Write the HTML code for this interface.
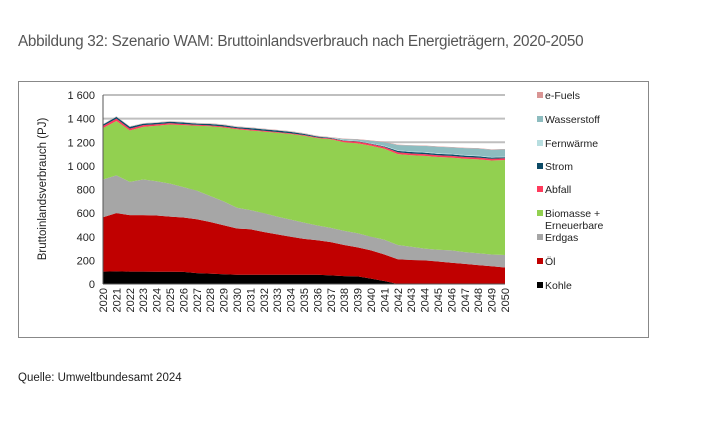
<!DOCTYPE html>
<html><head><meta charset="utf-8"><style>
body{margin:0;background:#fff;width:714px;height:424px;overflow:hidden;font-family:"Liberation Sans",sans-serif;}
#title{position:absolute;left:18px;top:33px;font-size:15.3px;color:#555;letter-spacing:-0.3px;}
#frame{position:absolute;left:18px;top:81px;width:631px;height:257px;border:1px solid #888;box-sizing:border-box;}
#src{position:absolute;left:18px;top:372px;font-size:11.5px;color:#222;}
svg{position:absolute;left:0;top:0;}
</style></head><body>
<div id="title">Abbildung 32: Szenario WAM: Bruttoinlandsverbrauch nach Energieträgern, 2020-2050</div>
<div id="frame"></div>
<div id="src">Quelle: Umweltbundesamt 2024</div>
<svg id="chart" width="714" height="424"></svg>
<script>
const years=[];for(let y=2020;y<=2050;y++)years.push(y);
const seriesNames=["Kohle","Öl","Erdgas","Biomasse + Erneuerbare","Abfall","Strom","Fernwärme","Wasserstoff","e-Fuels"];
const kohle=[105,107,105,105,104,104,103,92,88,83,78,78,78,78,78,78,78,73,67,65,45,25,0,0,0,0,0,0,0,0,0];
const oel=[460,493,478,478,476,466,460,456,437,414,392,385,362,342,322,304,292,282,263,245,240,225,210,203,200,190,180,170,160,150,140];
const erdgas=[320,320,282,302,290,280,257,242,220,203,175,162,160,150,145,138,125,120,120,120,115,125,120,112,100,100,105,100,100,100,105];
const biomasse=[435,460,435,445,470,500,525,550,590,625,665,675,690,710,725,735,740,750,750,760,770,770,770,775,785,785,785,790,795,795,805];
const abfall=[18,20,15,15,12,12,10,8,8,8,8,8,7,7,6,6,6,7,12,15,15,15,15,15,15,15,15,15,15,15,15];
const strom=[12,15,15,12,12,12,12,10,12,12,10,12,12,12,12,10,8,5,3,3,3,5,12,12,12,12,12,12,12,10,8];
const fernwaerme=[3,3,3,3,3,3,3,3,3,3,3,3,3,3,3,3,3,3,5,5,5,5,5,5,5,5,5,5,5,5,5];
const wasserstoff=[0,0,0,0,0,0,0,0,0,0,0,0,0,0,0,0,0,0,8,10,20,30,45,50,52,55,55,58,60,62,62];
const efuels=[2,2,2,2,2,3,3,3,3,3,3,3,3,3,3,3,3,3,3,3,3,3,3,3,3,3,3,3,3,3,3];
const yTicks=[0,200,400,600,800,1000,1200,1400,1600];
const yTickLabels=["0","200","400","600","800","1 000","1 200","1 400","1 600"];
const colors=["#000000","#c00000","#a6a6a6","#92d050","#ff3b5c","#0c4a66","#b7dee0","#8dbcbf","#d99594"];
const series=[kohle,oel,erdgas,biomasse,abfall,strom,fernwaerme,wasserstoff,efuels];
const X0=103,X1=505,Y0=284,Y1=95,VMAX=1600;
const xs=i=>X0+(X1-X0)*i/(years.length-1);
const ys=v=>Y0-(Y0-Y1)*v/VMAX;
const svg=document.getElementById('chart');const NS="http://www.w3.org/2000/svg";
function mk(t,a,p){const e=document.createElementNS(NS,t);for(const k in a)e.setAttribute(k,a[k]);(p||svg).appendChild(e);return e;}
yTicks.forEach((v,i)=>{
 if(v>0){const g=mk('line',{x1:X0,x2:X1,y1:ys(v),y2:ys(v),stroke:'#bfbfbf','stroke-width':2});
 
 }
 const t=mk('text',{x:95,y:ys(v)+4,'text-anchor':'end','font-size':11,fill:'#222'});t.textContent=yTickLabels[i];
 
 
});
let base=years.map(()=>0);
series.forEach((s,si)=>{
 const top=base.map((b,i)=>b+s[i]);
 let d='M'+years.map((_,i)=>xs(i)+','+ys(top[i])).join('L');
 for(let i=years.length-1;i>=0;i--)d+='L'+xs(i)+','+ys(base[i]);
 const p=mk('path',{d:d+'Z',fill:colors[si]});
 
 
 base=top;
});
const ax=mk('line',{x1:X0,x2:X0,y1:Y1,y2:Y0,stroke:'#555','stroke-width':1});

const bx=mk('line',{x1:X0,x2:X1,y1:Y0,y2:Y0,stroke:'#555','stroke-width':1});

years.forEach((y,i)=>{
 const t=mk('text',{x:0,y:0,'text-anchor':'end','font-size':11,fill:'#222',transform:`translate(${xs(i)+4},${Y0+4}) rotate(-90)`});
 t.textContent=y;
 
 
});
const yt=mk('text',{x:0,y:0,'text-anchor':'middle','font-size':11.5,fill:'#222',transform:'translate(46,189) rotate(-90)'});
yt.textContent='Bruttoinlandsverbrauch (PJ)';

const legendItems=[["e-Fuels",8,98],["Wasserstoff",7,122],["Fernwärme",6,146],["Strom",5,169],["Abfall",4,192],["Biomasse +",3,216],["Erdgas",2,240],["Öl",1,264],["Kohle",0,288]];
legendItems.forEach(([n,ci,y])=>{
 const g=mk('g',{});
 
 mk('rect',{x:537,y:y-6,width:6,height:6,fill:colors[ci]},g);
 const t=mk('text',{x:545,y:y+1,'font-size':10.5,fill:'#222'},g);t.textContent=n;
 if(n==="Biomasse +"){const t2=mk('text',{x:545,y:y+13,'font-size':10.5,fill:'#222'},g);t2.textContent='Erneuerbare';}
});
</script>
</body></html>
